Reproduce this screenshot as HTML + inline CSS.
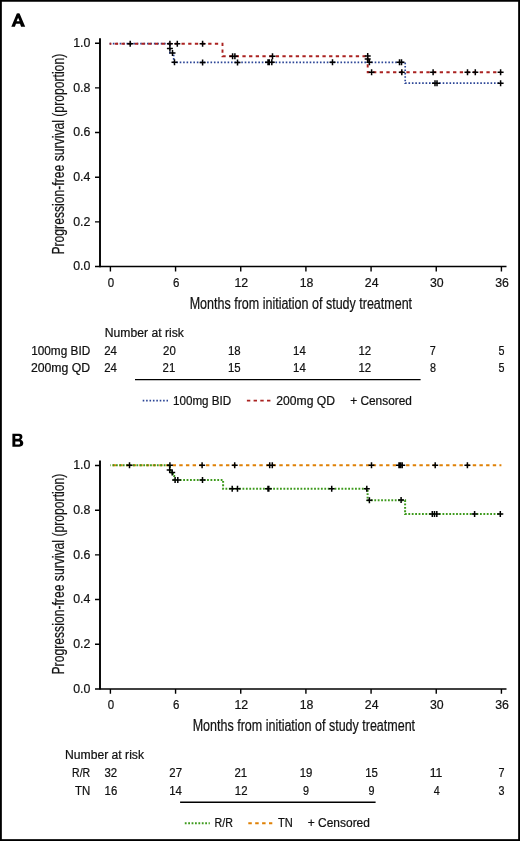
<!DOCTYPE html>
<html><head><meta charset="utf-8"><style>
html,body{margin:0;padding:0;background:#fff;}
svg{display:block;will-change:transform;}
text{font-family:"Liberation Sans", sans-serif;fill:#111;stroke:#111;stroke-width:0.22px;}
</style></head><body>
<svg width="520" height="841" viewBox="0 0 520 841">
<rect x="0" y="0" width="520" height="841" fill="#fff"/>
<rect x="0.9" y="0.8" width="518.2" height="839.3" fill="none" stroke="#000" stroke-width="1.9"/>
<path d="M100 38.20V267.30" stroke="#000" stroke-width="1.9" fill="none"/>
<path d="M95 266.60H506.5" stroke="#000" stroke-width="1.5" fill="none"/>
<path d="M95 43.20H100M95 87.88H100M95 132.56H100M95 177.24H100M95 221.92H100M110.40 266.60V271.40M175.57 266.60V271.40M240.74 266.60V271.40M305.91 266.60V271.40M371.08 266.60V271.40M436.25 266.60V271.40M501.42 266.60V271.40" stroke="#000" stroke-width="1.4" fill="none"/>
<text x="90.4" y="46.90" font-size="13" text-anchor="end" textLength="17.2" lengthAdjust="spacingAndGlyphs">1.0</text>
<text x="90.4" y="91.58" font-size="13" text-anchor="end" textLength="17.2" lengthAdjust="spacingAndGlyphs">0.8</text>
<text x="90.4" y="136.26" font-size="13" text-anchor="end" textLength="17.2" lengthAdjust="spacingAndGlyphs">0.6</text>
<text x="90.4" y="180.94" font-size="13" text-anchor="end" textLength="17.2" lengthAdjust="spacingAndGlyphs">0.4</text>
<text x="90.4" y="225.62" font-size="13" text-anchor="end" textLength="17.2" lengthAdjust="spacingAndGlyphs">0.2</text>
<text x="90.4" y="270.30" font-size="13" text-anchor="end" textLength="17.2" lengthAdjust="spacingAndGlyphs">0.0</text>
<text x="111.00" y="287.20" font-size="12.8" text-anchor="middle" textLength="6.4" lengthAdjust="spacingAndGlyphs">0</text>
<text x="176.17" y="287.20" font-size="12.8" text-anchor="middle" textLength="6.4" lengthAdjust="spacingAndGlyphs">6</text>
<text x="241.34" y="287.20" font-size="12.8" text-anchor="middle" textLength="13.7" lengthAdjust="spacingAndGlyphs">12</text>
<text x="306.51" y="287.20" font-size="12.8" text-anchor="middle" textLength="13.7" lengthAdjust="spacingAndGlyphs">18</text>
<text x="371.68" y="287.20" font-size="12.8" text-anchor="middle" textLength="13.7" lengthAdjust="spacingAndGlyphs">24</text>
<text x="436.85" y="287.20" font-size="12.8" text-anchor="middle" textLength="13.7" lengthAdjust="spacingAndGlyphs">30</text>
<text x="502.02" y="287.20" font-size="12.8" text-anchor="middle" textLength="13.7" lengthAdjust="spacingAndGlyphs">36</text>
<text x="189.7" y="308.60" font-size="15.8" textLength="222.4" lengthAdjust="spacingAndGlyphs">Months from initiation of study treatment</text>
<text transform="translate(63.6 254.60) rotate(-90)" x="0" y="0" font-size="15.7" textLength="200.8" lengthAdjust="spacingAndGlyphs">Progression-free survival (proportion)</text>
<g transform="translate(0 0)">
<path d="M109.6 43.7H169.9V53.0H173.7V62.3H405.2V83.2H501.4" stroke="#2b4596" stroke-width="1.7" stroke-dasharray="1.6 1.82" stroke-dashoffset="0.2" fill="none"/>
<path d="M109.6 43.7H222.5V56.2H367.7V72.3H501.4" stroke="#aa2220" stroke-width="1.9" stroke-dasharray="3.3 3.37" stroke-dashoffset="1.45" fill="none"/>
</g>
<path d="M127.20 43.70H133.20M130.20 40.70V46.70M166.90 43.70H172.90M169.90 40.70V46.70M166.90 48.40H172.90M169.90 45.40V51.40M169.50 53.10H175.50M172.50 50.10V56.10M171.50 62.30H177.50M174.50 59.30V65.30M174.30 43.70H180.30M177.30 40.70V46.70M199.60 43.70H205.60M202.60 40.70V46.70M199.60 62.40H205.60M202.60 59.40V65.40M229.60 56.20H235.60M232.60 53.20V59.20M231.90 56.20H237.90M234.90 53.20V59.20M234.50 62.40H240.50M237.50 59.40V65.40M265.00 62.30H271.00M268.00 59.30V65.30M266.30 62.30H272.30M269.30 59.30V65.30M268.80 62.30H274.80M271.80 59.30V65.30M269.50 56.20H275.50M272.50 53.20V59.20M329.50 62.30H335.50M332.50 59.30V65.30M364.70 56.10H370.70M367.70 53.10V59.10M364.70 59.10H370.70M367.70 56.10V62.10M366.40 62.30H372.40M369.40 59.30V65.30M368.60 72.20H374.60M371.60 69.20V75.20M396.50 62.30H402.50M399.50 59.30V65.30M398.50 62.30H404.50M401.50 59.30V65.30M398.80 72.30H404.80M401.80 69.30V75.30M430.10 72.30H436.10M433.10 69.30V75.30M432.00 83.20H438.00M435.00 80.20V86.20M434.00 83.20H440.00M437.00 80.20V86.20M464.50 72.30H470.50M467.50 69.30V75.30M472.30 72.30H478.30M475.30 69.30V75.30M497.60 72.30H503.60M500.60 69.30V75.30M497.60 83.20H503.60M500.60 80.20V86.20" stroke="#000" stroke-width="1.5" fill="none"/>
<path fill="#000" fill-rule="evenodd" d="M11.3 26.8L16.8 13.6Q18.2 12.9 19.6 13.6L25.2 26.8H21.1L20.0 23.7H16.0L14.9 26.8Z M16.6 21.3H19.6L18.1 17.7Z"/>
<path fill="#000" fill-rule="evenodd" d="M12.4 433.7H19.2C21.3 433.7 22.4 434.9 22.4 436.7C22.4 438.1 21.7 439.2 20.7 439.8C22.2 440.3 23.3 441.5 23.3 443.1C23.3 445.4 21.8 446.7 19.5 446.7H12.4Z M15.3 435.9H18.6C19.3 435.9 19.7 436.5 19.7 437.3C19.7 438.2 19.3 438.7 18.6 438.7H15.3Z M15.3 441.5H18.8C19.6 441.5 20.1 442.1 20.1 443.0C20.1 443.9 19.6 444.5 18.8 444.5H15.3Z"/>
<text x="104.8" y="337.00" font-size="12" textLength="79" lengthAdjust="spacingAndGlyphs">Number at risk</text>
<text x="90.2" y="354.60" font-size="12" text-anchor="end" textLength="59.0" lengthAdjust="spacingAndGlyphs">100mg BID</text>
<text x="110.50" y="354.60" font-size="12" text-anchor="middle" textLength="12.7" lengthAdjust="spacingAndGlyphs">24</text>
<text x="169.40" y="354.60" font-size="12" text-anchor="middle" textLength="12.7" lengthAdjust="spacingAndGlyphs">20</text>
<text x="234.30" y="354.60" font-size="12" text-anchor="middle" textLength="12.7" lengthAdjust="spacingAndGlyphs">18</text>
<text x="299.40" y="354.60" font-size="12" text-anchor="middle" textLength="12.7" lengthAdjust="spacingAndGlyphs">14</text>
<text x="364.80" y="354.60" font-size="12" text-anchor="middle" textLength="12.7" lengthAdjust="spacingAndGlyphs">12</text>
<text x="432.70" y="354.60" font-size="12" text-anchor="middle" textLength="6.0" lengthAdjust="spacingAndGlyphs">7</text>
<text x="501.60" y="354.60" font-size="12" text-anchor="middle" textLength="6.0" lengthAdjust="spacingAndGlyphs">5</text>
<text x="90.2" y="372.30" font-size="12" text-anchor="end" textLength="59.3" lengthAdjust="spacingAndGlyphs">200mg QD</text>
<text x="110.50" y="372.30" font-size="12" text-anchor="middle" textLength="12.7" lengthAdjust="spacingAndGlyphs">24</text>
<text x="168.90" y="372.30" font-size="12" text-anchor="middle" textLength="12.7" lengthAdjust="spacingAndGlyphs">21</text>
<text x="234.30" y="372.30" font-size="12" text-anchor="middle" textLength="12.7" lengthAdjust="spacingAndGlyphs">15</text>
<text x="299.40" y="372.30" font-size="12" text-anchor="middle" textLength="12.7" lengthAdjust="spacingAndGlyphs">14</text>
<text x="364.80" y="372.30" font-size="12" text-anchor="middle" textLength="12.7" lengthAdjust="spacingAndGlyphs">12</text>
<text x="433.10" y="372.30" font-size="12" text-anchor="middle" textLength="6.0" lengthAdjust="spacingAndGlyphs">8</text>
<text x="501.60" y="372.30" font-size="12" text-anchor="middle" textLength="6.0" lengthAdjust="spacingAndGlyphs">5</text>
<path d="M135.0 379.60H420.6" stroke="#000" stroke-width="1.4"/>
<path d="M142.7 400.60H168.0" stroke="#2b4596" stroke-width="1.7" stroke-dasharray="1.6 1.8"/>
<text x="173.0" y="404.80" font-size="12" textLength="58.2" lengthAdjust="spacingAndGlyphs">100mg BID</text>
<path d="M246.9 400.60H270.6" stroke="#aa2220" stroke-width="1.9" stroke-dasharray="3.4 3.3"/>
<text x="276.3" y="404.80" font-size="12" textLength="58.7" lengthAdjust="spacingAndGlyphs">200mg QD</text>
<text x="350.2" y="404.80" font-size="12" textLength="61.7" lengthAdjust="spacingAndGlyphs">+ Censored</text>
<g transform="translate(0 422.3)"><path d="M100 38.20V267.30" stroke="#000" stroke-width="1.9" fill="none"/>
<path d="M95 266.60H506.5" stroke="#000" stroke-width="1.5" fill="none"/>
<path d="M95 43.20H100M95 87.88H100M95 132.56H100M95 177.24H100M95 221.92H100M110.40 266.60V271.40M175.57 266.60V271.40M240.74 266.60V271.40M305.91 266.60V271.40M371.08 266.60V271.40M436.25 266.60V271.40M501.42 266.60V271.40" stroke="#000" stroke-width="1.4" fill="none"/>
<text x="90.4" y="46.90" font-size="13" text-anchor="end" textLength="17.2" lengthAdjust="spacingAndGlyphs">1.0</text>
<text x="90.4" y="91.58" font-size="13" text-anchor="end" textLength="17.2" lengthAdjust="spacingAndGlyphs">0.8</text>
<text x="90.4" y="136.26" font-size="13" text-anchor="end" textLength="17.2" lengthAdjust="spacingAndGlyphs">0.6</text>
<text x="90.4" y="180.94" font-size="13" text-anchor="end" textLength="17.2" lengthAdjust="spacingAndGlyphs">0.4</text>
<text x="90.4" y="225.62" font-size="13" text-anchor="end" textLength="17.2" lengthAdjust="spacingAndGlyphs">0.2</text>
<text x="90.4" y="270.30" font-size="13" text-anchor="end" textLength="17.2" lengthAdjust="spacingAndGlyphs">0.0</text>
<text x="111.00" y="287.20" font-size="12.8" text-anchor="middle" textLength="6.4" lengthAdjust="spacingAndGlyphs">0</text>
<text x="176.17" y="287.20" font-size="12.8" text-anchor="middle" textLength="6.4" lengthAdjust="spacingAndGlyphs">6</text>
<text x="241.34" y="287.20" font-size="12.8" text-anchor="middle" textLength="13.7" lengthAdjust="spacingAndGlyphs">12</text>
<text x="306.51" y="287.20" font-size="12.8" text-anchor="middle" textLength="13.7" lengthAdjust="spacingAndGlyphs">18</text>
<text x="371.68" y="287.20" font-size="12.8" text-anchor="middle" textLength="13.7" lengthAdjust="spacingAndGlyphs">24</text>
<text x="436.85" y="287.20" font-size="12.8" text-anchor="middle" textLength="13.7" lengthAdjust="spacingAndGlyphs">30</text>
<text x="502.02" y="287.20" font-size="12.8" text-anchor="middle" textLength="13.7" lengthAdjust="spacingAndGlyphs">36</text>
<text x="192.7" y="308.60" font-size="15.8" textLength="222.4" lengthAdjust="spacingAndGlyphs">Months from initiation of study treatment</text>
<text transform="translate(63.6 252.20) rotate(-90)" x="0" y="0" font-size="15.7" textLength="200.8" lengthAdjust="spacingAndGlyphs">Progression-free survival (proportion)</text>
<g transform="translate(0 -422.3)">
<path d="M110.4 465.3H501.4" stroke="#df8106" stroke-width="2.1" stroke-dasharray="3.4 3.27" stroke-dashoffset="4.49" fill="none"/>
<path d="M110.4 465.3H169.9V470.0H171.5V472.4H173.0V476.0H174.2V479.9H223.1V488.8H367.6V500.2H405.1V513.9H501.4" stroke="#3d9a1c" stroke-width="2.0" stroke-dasharray="1.8 1.61" stroke-dashoffset="1.26" fill="none"/>
</g>
<path d="M126.50 43.00H132.50M129.50 40.00V46.00M166.90 43.00H172.90M169.90 40.00V46.00M166.70 47.80H172.70M169.70 44.80V50.80M169.20 50.10H175.20M172.20 47.10V53.10M172.10 57.60H178.10M175.10 54.60V60.60M174.80 57.60H180.80M177.80 54.60V60.60M199.10 43.00H205.10M202.10 40.00V46.00M199.50 57.60H205.50M202.50 54.60V60.60M231.70 43.00H237.70M234.70 40.00V46.00M229.20 66.50H235.20M232.20 63.50V69.50M234.50 66.50H240.50M237.50 63.50V69.50M266.70 43.00H272.70M269.70 40.00V46.00M269.30 43.00H275.30M272.30 40.00V46.00M265.00 66.50H271.00M268.00 63.50V69.50M265.80 66.50H271.80M268.80 63.50V69.50M328.70 66.50H334.70M331.70 63.50V69.50M368.50 43.00H374.50M371.50 40.00V46.00M363.80 66.50H369.80M366.80 63.50V69.50M366.40 77.90H372.40M369.40 74.90V80.90M396.00 43.00H402.00M399.00 40.00V46.00M397.50 43.00H403.50M400.50 40.00V46.00M399.20 43.00H405.20M402.20 40.00V46.00M398.10 77.70H404.10M401.10 74.70V80.70M429.30 91.60H435.30M432.30 88.60V94.60M431.50 91.60H437.50M434.50 88.60V94.60M433.80 91.60H439.80M436.80 88.60V94.60M432.20 43.00H438.20M435.20 40.00V46.00M464.40 43.00H470.40M467.40 40.00V46.00M471.60 91.60H477.60M474.60 88.60V94.60M497.30 91.60H503.30M500.30 88.60V94.60" stroke="#000" stroke-width="1.5" fill="none"/></g>
<g transform="translate(0 422.3)"><text x="65.0" y="337.00" font-size="12" textLength="79" lengthAdjust="spacingAndGlyphs">Number at risk</text>
<text x="90.2" y="354.60" font-size="12" text-anchor="end" textLength="18.1" lengthAdjust="spacingAndGlyphs">R/R</text>
<text x="110.80" y="354.60" font-size="12" text-anchor="middle" textLength="12.7" lengthAdjust="spacingAndGlyphs">32</text>
<text x="175.70" y="354.60" font-size="12" text-anchor="middle" textLength="12.7" lengthAdjust="spacingAndGlyphs">27</text>
<text x="240.80" y="354.60" font-size="12" text-anchor="middle" textLength="12.7" lengthAdjust="spacingAndGlyphs">21</text>
<text x="306.10" y="354.60" font-size="12" text-anchor="middle" textLength="12.7" lengthAdjust="spacingAndGlyphs">19</text>
<text x="371.60" y="354.60" font-size="12" text-anchor="middle" textLength="12.7" lengthAdjust="spacingAndGlyphs">15</text>
<text x="436.00" y="354.60" font-size="12" text-anchor="middle" textLength="12.7" lengthAdjust="spacingAndGlyphs">11</text>
<text x="501.50" y="354.60" font-size="12" text-anchor="middle" textLength="6.0" lengthAdjust="spacingAndGlyphs">7</text>
<text x="90.2" y="372.30" font-size="12" text-anchor="end" textLength="15.2" lengthAdjust="spacingAndGlyphs">TN</text>
<text x="110.90" y="372.30" font-size="12" text-anchor="middle" textLength="12.7" lengthAdjust="spacingAndGlyphs">16</text>
<text x="175.60" y="372.30" font-size="12" text-anchor="middle" textLength="12.7" lengthAdjust="spacingAndGlyphs">14</text>
<text x="241.20" y="372.30" font-size="12" text-anchor="middle" textLength="12.7" lengthAdjust="spacingAndGlyphs">12</text>
<text x="306.10" y="372.30" font-size="12" text-anchor="middle" textLength="6.0" lengthAdjust="spacingAndGlyphs">9</text>
<text x="371.50" y="372.30" font-size="12" text-anchor="middle" textLength="6.0" lengthAdjust="spacingAndGlyphs">9</text>
<text x="436.70" y="372.30" font-size="12" text-anchor="middle" textLength="6.0" lengthAdjust="spacingAndGlyphs">4</text>
<text x="501.60" y="372.30" font-size="12" text-anchor="middle" textLength="6.0" lengthAdjust="spacingAndGlyphs">3</text>
<path d="M180.1 379.90H375.6" stroke="#000" stroke-width="1.4"/>
<path d="M184.8 400.90H209.8" stroke="#3d9a1c" stroke-width="2.0" stroke-dasharray="1.8 1.6"/>
<text x="214.6" y="404.80" font-size="12" textLength="18.3" lengthAdjust="spacingAndGlyphs">R/R</text>
<path d="M248.3 400.90H272.3" stroke="#df8106" stroke-width="2.1" stroke-dasharray="3.5 3.4"/>
<text x="278.0" y="404.80" font-size="12" textLength="14.8" lengthAdjust="spacingAndGlyphs">TN</text>
<text x="307.8" y="404.80" font-size="12" textLength="62.1" lengthAdjust="spacingAndGlyphs">+ Censored</text></g>
</svg>
</body></html>
